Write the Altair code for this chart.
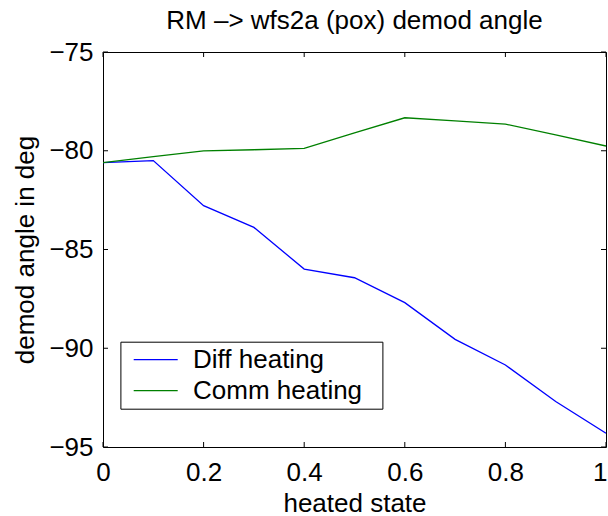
import altair as alt
import pandas as pd

# ---- data ----
heated_state = [0.0, 0.1, 0.2, 0.3, 0.4, 0.5, 0.6, 0.7, 0.8, 0.9, 1.0]
diff_heating = [-80.6, -80.5, -82.78, -83.88, -85.99, -86.43, -87.69, -89.55, -90.85, -92.7, -94.3]
comm_heating = [-80.6, -80.3, -80.01, -79.95, -79.88, -79.1, -78.33, -78.49, -78.65, -79.2, -79.76]
series_names = ["Diff heating", "Comm heating"]
series_colors = ["#0000ff", "#008000"]
x_ticks = [0, 0.2, 0.4, 0.6, 0.8, 1.0]
y_ticks = [-95, -90, -85, -80, -75]

rows = []
for name, vals in zip(series_names, [diff_heating, comm_heating]):
    for xv, yv in zip(heated_state, vals):
        rows.append({"x": xv, "y": yv, "series": name})
df = pd.DataFrame(rows)

FONT = "Liberation Sans"
W, H = 503, 395
TL = 5

xscale = alt.Scale(domain=[0, 1], nice=False, zero=False)
yscale = alt.Scale(domain=[-95, -75], nice=False, zero=False)

lines = alt.Chart(df).mark_line(strokeWidth=1.3, clip=True).encode(
    x=alt.X("x:Q", scale=xscale,
            axis=alt.Axis(orient="bottom", values=x_ticks, format="~g", title="heated state",
                          labelPadding=33, labelBaseline="alphabetic",
                          labelAlign=alt.ExprRef(expr="datum.value == 1 ? 'right' : 'center'"),
                          labelOffset=alt.ExprRef(expr="datum.value == 1 ? 1 : 0"),
                          titleX=W / 2, titleY=64, titleBaseline="alphabetic",
                          titleAlign="center", labelFlush=False)),
    y=alt.Y("y:Q", scale=yscale,
            axis=alt.Axis(orient="left", values=y_ticks, title="demod angle in deg",
                          labelPadding=10, titleAngle=270, titleX=-70, titleY=H / 2,
                          titleBaseline="alphabetic", titleAlign="center",
                          labelFlush=False)),
    color=alt.Color("series:N",
                    scale=alt.Scale(domain=series_names, range=series_colors),
                    legend=alt.Legend(orient="none", legendX=17.4, legendY=289.7,
                                      title=None, symbolType="M-2,0H2M19.9,0",
                                      symbolSize=484, symbolStrokeWidth=1.3,
                                      symbolOffset=17.3, labelOffset=24.3,
                                      labelFontSize=26, labelFont=FONT,
                                      labelColor="black", padding=5, rowPadding=5,
                                      strokeColor="black", fillColor="white",
                                      cornerRadius=0, labelLimit=400)),
)

xt = pd.DataFrame({"t": x_ticks})
yt = pd.DataFrame({"t": y_ticks})
bottom = alt.Chart(xt).mark_rule(color="black", strokeWidth=1).encode(
    x=alt.X("t:Q", scale=xscale, axis=None), y=alt.value(H), y2=alt.value(H - TL))
top = alt.Chart(xt).mark_rule(color="black", strokeWidth=1).encode(
    x=alt.X("t:Q", scale=xscale, axis=None), y=alt.value(0), y2=alt.value(TL))
left = alt.Chart(yt).mark_rule(color="black", strokeWidth=1).encode(
    y=alt.Y("t:Q", scale=yscale, axis=None), x=alt.value(0), x2=alt.value(TL))
right = alt.Chart(yt).mark_rule(color="black", strokeWidth=1).encode(
    y=alt.Y("t:Q", scale=yscale, axis=None), x=alt.value(W - TL), x2=alt.value(W))

chart = alt.layer(lines, bottom, top, left, right).resolve_axis(
    x="independent", y="independent"
).properties(
    width=W, height=H,
    background="white",
    padding={"left": 103, "top": 52, "right": 2, "bottom": 69},
    autosize=alt.AutoSizeParams(type="none"),
    title=alt.TitleParams(text="RM –> wfs2a (pox) demod angle", font=FONT,
                          fontSize=26, fontWeight="normal", color="black",
                          offset=5, anchor="middle"),
).configure_view(stroke="black", strokeWidth=1).configure_axis(
    labelFont=FONT, labelFontSize=26, labelColor="black",
    titleFont=FONT, titleFontSize=26, titleFontWeight="normal", titleColor="black",
    grid=False, domain=False, ticks=False, tickSize=0, labelOverlap=False,
)

chart.save("out.html", embed_options={"renderer": "svg", "actions": False})
